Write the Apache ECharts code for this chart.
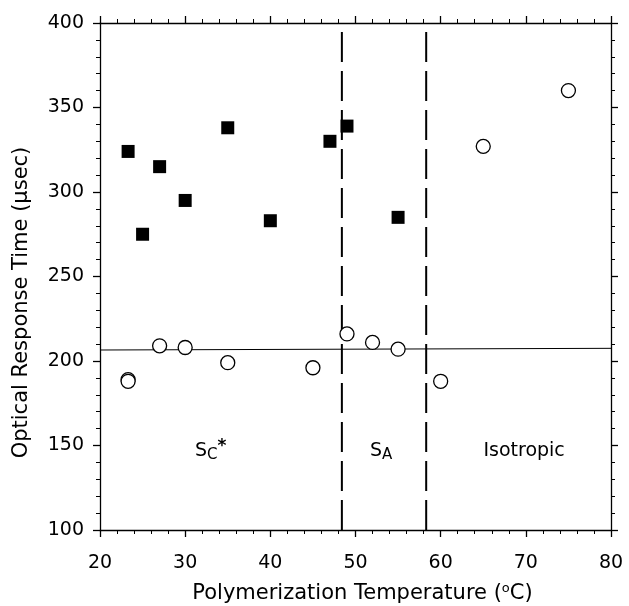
<!DOCTYPE html>
<html>
<head>
<meta charset="utf-8">
<script src="https://cdn.jsdelivr.net/npm/echarts@6/dist/echarts.min.js"></script>
<style>
  html, body { margin: 0; padding: 0; background: #fff; }
  #chart { width: 629px; height: 606px; }
</style>
</head>
<body>
<div id="chart"></div>
<script>
// filled squares
const squareTemps = [23.3, 25, 27, 30, 35, 40, 47, 49, 55];
const squareTimes = [324, 275, 315, 295, 338, 283, 330, 339, 285];
// open circles
const circleTemps = [23.3, 23.3, 27, 30, 35, 45, 49, 52, 55, 60, 65, 75];
const circleTimes = [189, 188, 209, 208, 199, 196, 216, 211, 207, 188, 327, 360];
// horizontal reference line
const refLineX = [20, 80];
const refLineY = [206.5, 207.5];
// phase boundaries
const phaseBounds = [48.4, 58.3];
const phaseLabels = [
  { x: 33, y: 147, text: '{m|S}{sub|C}{sup|*}' },
  { x: 53, y: 147, text: '{m|S}{sub|A}' },
  { x: 69.8, y: 147, text: '{m|Isotropic}' }
];

const font = 'DejaVu Sans, Liberation Sans, sans-serif';
const chart = echarts.init(document.getElementById('chart'));

const baseX = {
  type: 'value', min: 20, max: 80, interval: 10,
  axisLine: { onZero: false, lineStyle: { color: '#000', width: 1.3 } },
  axisTick: { inside: false, length: 7, lineStyle: { color: '#000', width: 1.3 } },
  minorTick: { show: true, splitNumber: 5, length: 4, lineStyle: { color: '#000', width: 1 } },
  splitLine: { show: false }
};
const baseY = {
  type: 'value', min: 100, max: 400, interval: 50,
  axisLine: { onZero: false, lineStyle: { color: '#000', width: 1.3 } },
  axisTick: { inside: false, length: 7, lineStyle: { color: '#000', width: 1.3 } },
  minorTick: { show: true, splitNumber: 5, length: 4, lineStyle: { color: '#000', width: 1 } },
  splitLine: { show: false }
};

chart.setOption({
  animation: false,
  backgroundColor: '#fff',
  grid: { left: 100, right: 18, top: 23, bottom: 76, containLabel: false, outerBoundsMode: 'none' },
  xAxis: [
    Object.assign({}, baseX, {
      position: 'bottom',
      name: 'Polymerization Temperature ({sup|o}C)',
      nameLocation: 'middle', nameGap: 52,
      nameTextStyle: {
        fontFamily: font, fontSize: 21, color: '#000', padding: [0, 0, 0, 14],
        rich: { sup: { fontFamily: font, fontSize: 13, color: '#000', verticalAlign: 'top', padding: [0, 0, 10, 0] } }
      },
      axisLabel: { fontFamily: font, fontSize: 19, color: '#000', margin: 24 }
    }),
    Object.assign({}, baseX, { position: 'top', axisLabel: { show: false } })
  ],
  yAxis: [
    Object.assign({}, baseY, {
      position: 'left',
      name: 'Optical Response Time (\u03bcsec)',
      nameLocation: 'middle', nameGap: 68,
      nameTextStyle: { fontFamily: font, fontSize: 21, color: '#000', padding: [0, 52, 0, 0] },
      axisLabel: { fontFamily: font, fontSize: 19, color: '#000', margin: 16 }
    }),
    Object.assign({}, baseY, { position: 'right', axisLabel: { show: false } })
  ],
  series: [
    {
      type: 'line',
      data: refLineX.map((x, i) => [x, refLineY[i]]),
      symbol: 'none',
      lineStyle: { color: '#000', width: 1 },
      z: 1
    },
    ...phaseBounds.map(b => ({
      type: 'line',
      data: [[b, 100], [b, 400]],
      symbol: 'none',
      lineStyle: { color: '#000', width: 2, type: [30, 9] },
      z: 1
    })),
    {
      type: 'scatter',
      data: squareTemps.map((t, i) => [t, squareTimes[i]]),
      symbol: 'rect',
      symbolSize: 13,
      itemStyle: { color: '#000', opacity: 1 },
      z: 3
    },
    {
      type: 'scatter',
      data: circleTemps.map((t, i) => [t, circleTimes[i]]),
      symbol: 'circle',
      symbolSize: 14,
      itemStyle: { color: '#fff', borderColor: '#000', borderWidth: 1.3, opacity: 1 },
      z: 3
    },
    {
      type: 'scatter',
      data: phaseLabels.map(p => ({ value: [p.x, p.y], label: { formatter: p.text } })),
      symbolSize: 0,
      itemStyle: { opacity: 1 },
      label: {
        show: true, position: 'inside', opacity: 1,
        rich: {
          m: { fontFamily: font, fontSize: 19, color: '#000' },
          sub: { fontFamily: font, fontSize: 15, color: '#000', verticalAlign: 'bottom', padding: [10, 0, 0, 0] },
          sup: { fontFamily: font, fontSize: 17, color: '#000', fontWeight: 'bold', verticalAlign: 'top', padding: [0, 0, 8, 0] }
        }
      },
      z: 4
    }
  ]
});
</script>
</body>
</html>
